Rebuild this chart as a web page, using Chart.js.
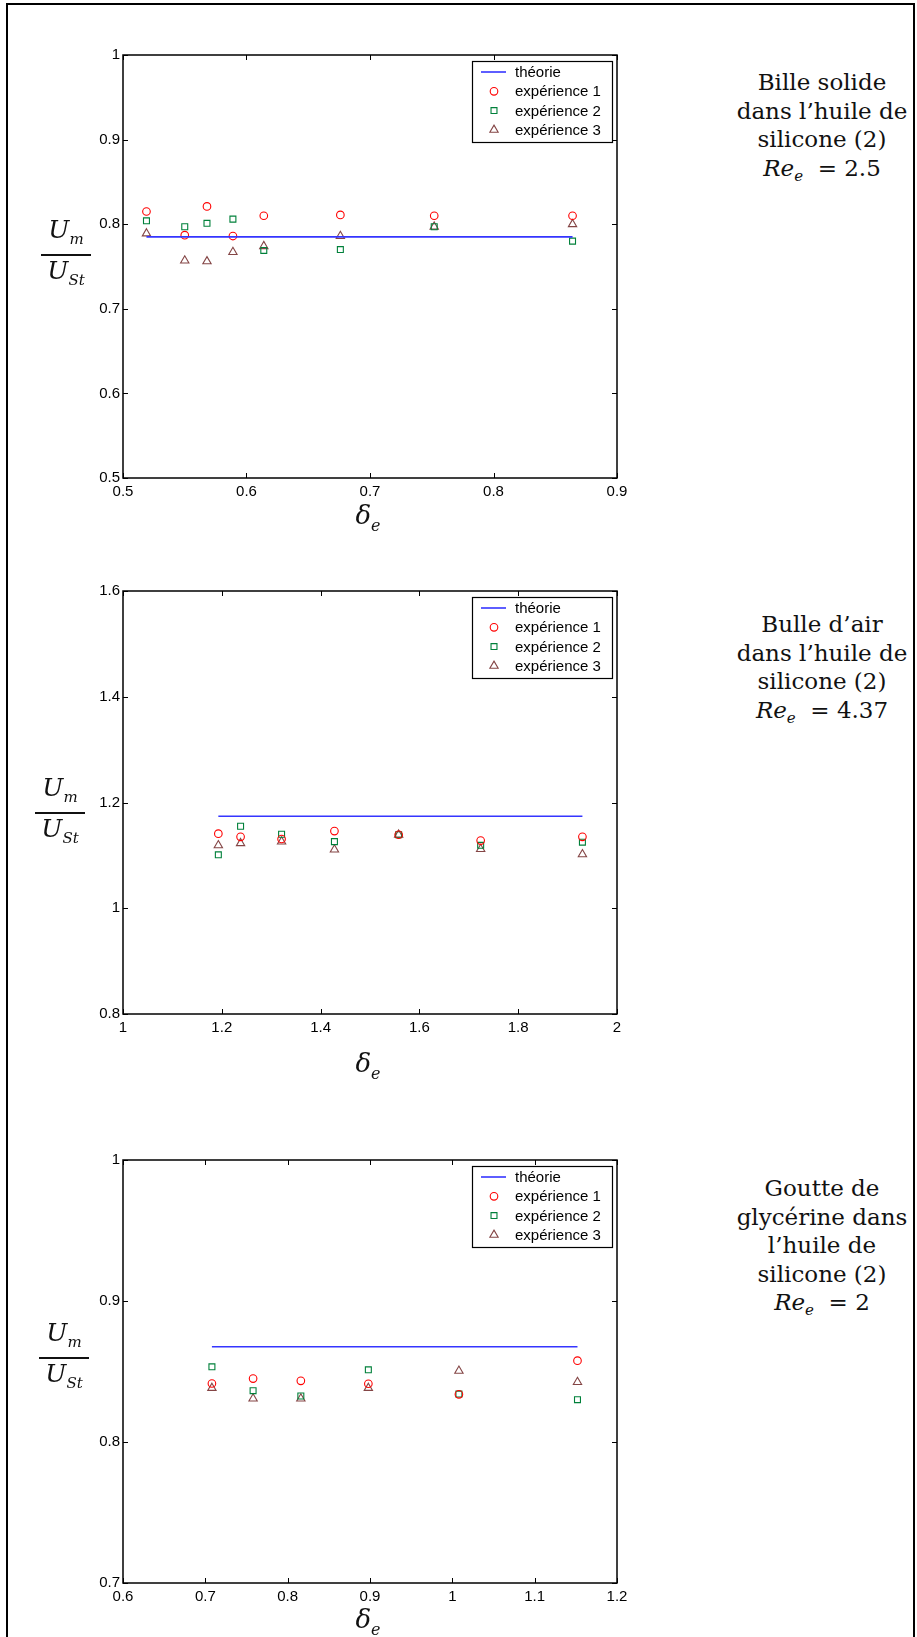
<!DOCTYPE html>
<html>
<head>
<meta charset="utf-8">
<script src="https://cdn.jsdelivr.net/npm/chart.js@4.4.0/dist/chart.umd.min.js"></script>
<style>
  body { margin:0; background:#fff; width:917px; height:1637px; position:relative; overflow:hidden; font-family:"DejaVu Serif", serif; }
  #frame { position:absolute; left:6px; top:3px; width:905px; height:1700px; border:2px solid #000; }
  canvas { position:absolute; left:0; }
  .side { position:absolute; width:210px; text-align:center; font-size:23px; line-height:28.5px; color:#111; }
  .side sub { font-size:15px; vertical-align:-5px; }
  .frac { position:absolute; width:50px; height:0; font-style:italic; color:#111; }
  .frac .num, .frac .den { position:absolute; left:0; width:100%; text-align:center; font-size:25px; line-height:26px; }
  .frac .num { bottom:3px; }
  .frac .den { top:3px; }
  .frac sub { font-size:15px; vertical-align:-6px; }
  .frac .bar { position:absolute; left:0; top:-1px; width:100%; height:2px; background:#111; }
  .xl { position:absolute; width:60px; text-align:center; font-size:26px; font-style:italic; color:#111; line-height:30px; }
  .xl sub { font-size:16px; vertical-align:-7px; }
</style>
</head>
<body>
<div id="frame"></div>

<canvas id="c1" width="640" height="483" style="top:35px"></canvas>
<canvas id="c2" width="640" height="483" style="top:571px"></canvas>
<canvas id="c3" width="640" height="483" style="top:1140px"></canvas>

<div class="frac" style="left:41px;top:255px"><div class="num"><i>U</i><sub>m</sub></div><div class="bar"></div><div class="den"><i>U</i><sub>St</sub></div></div>
<div class="frac" style="left:35px;top:813px"><div class="num"><i>U</i><sub>m</sub></div><div class="bar"></div><div class="den"><i>U</i><sub>St</sub></div></div>
<div class="frac" style="left:39px;top:1358px"><div class="num"><i>U</i><sub>m</sub></div><div class="bar"></div><div class="den"><i>U</i><sub>St</sub></div></div>

<div class="xl" style="left:338px;top:500px">δ<sub>e</sub></div>
<div class="xl" style="left:338px;top:1048px">δ<sub>e</sub></div>
<div class="xl" style="left:338px;top:1604px">δ<sub>e</sub></div>

<div class="side" style="left:717px;top:68px">Bille solide<br>dans l’huile de<br>silicone (2)<br><i>Re<sub>e</sub></i>&nbsp; = 2.5</div>
<div class="side" style="left:717px;top:610px">Bulle d’air<br>dans l’huile de<br>silicone (2)<br><i>Re<sub>e</sub></i>&nbsp; = 4.37</div>
<div class="side" style="left:717px;top:1174px">Goutte de<br>glycérine dans<br>l’huile de<br>silicone (2)<br><i>Re<sub>e</sub></i>&nbsp; = 2</div>

<script>
// legend labels
var noms = ['théorie', 'expérience 1', 'expérience 2', 'expérience 3']

// bille solide, Re_e = 2.5
var delta1 = [0.519, 0.550, 0.568, 0.589, 0.614, 0.676, 0.752, 0.864]
var exp1_1 = [0.815, 0.787, 0.821, 0.786, 0.810, 0.811, 0.810, 0.810]
var exp1_2 = [0.804, 0.797, 0.801, 0.806, 0.769, 0.770, 0.797, 0.780]
var exp1_3 = [0.789, 0.757, 0.756, 0.767, 0.774, 0.786, 0.797, 0.800]
var theo1 = 0.785

// bulle d'air, Re_e = 4.37
var delta2 = [1.193, 1.238, 1.321, 1.428, 1.558, 1.724, 1.930]
var exp2_1 = [1.141, 1.135, 1.131, 1.146, 1.139, 1.128, 1.135]
var exp2_2 = [1.101, 1.155, 1.140, 1.126, 1.139, 1.119, 1.125]
var exp2_3 = [1.119, 1.123, 1.126, 1.111, 1.139, 1.112, 1.102]
var theo2 = 1.174

// goutte de glycerine, Re_e = 2
var delta3 = [0.708, 0.758, 0.816, 0.898, 1.008, 1.152]
var exp3_1 = [0.8415, 0.845, 0.8434, 0.8413, 0.8338, 0.8577]
var exp3_2 = [0.8533, 0.8364, 0.8326, 0.8512, 0.834, 0.830]
var exp3_3 = [0.8383, 0.8308, 0.8308, 0.8383, 0.8505, 0.8425]
var theo3 = 0.8676

// axis limits [xmin, xmax, xstep, ymin, ymax, ystep]
var axes1 = [0.5, 0.9, 0.1, 0.5, 1.0, 0.1]
var axes2 = [1.0, 2.0, 0.2, 0.8, 1.6, 0.2]
var axes3 = [0.6, 1.2, 0.1, 0.7, 1.0, 0.1]

var tickFont = { family: '"Liberation Sans", Arial, sans-serif', size: 15 }

function pts(xs, ys) {
  return xs.map(function(x, i) { return { x: x, y: ys[i] } })
}
function fmt(v) { return String(+(+v).toFixed(2)) }

// matlab style box with inward ticks
var boxPlugin = {
  id: 'matlabBox',
  afterDraw: function(chart) {
    var ctx = chart.ctx, a = chart.chartArea
    var sx = chart.scales.x, sy = chart.scales.y
    ctx.save()
    ctx.strokeStyle = '#000'
    ctx.lineWidth = 1.5
    ctx.strokeRect(a.left, a.top, a.right - a.left, a.bottom - a.top)
    ctx.lineWidth = 1
    ctx.beginPath()
    sx.ticks.forEach(function(t) {
      var p = Math.round(sx.getPixelForValue(t.value)) + 0.5
      ctx.moveTo(p, a.bottom); ctx.lineTo(p, a.bottom - 5)
      ctx.moveTo(p, a.top); ctx.lineTo(p, a.top + 5)
    })
    sy.ticks.forEach(function(t) {
      var p = Math.round(sy.getPixelForValue(t.value)) + 0.5
      ctx.moveTo(a.left, p); ctx.lineTo(a.left + 5, p)
      ctx.moveTo(a.right, p); ctx.lineTo(a.right - 5, p)
    })
    ctx.stroke()

    // legend inside the axes, top right
    var w = 140, h = 81
    var lx = a.right - 5 - w, ly = a.top + 6
    ctx.fillStyle = '#fff'
    ctx.fillRect(lx, ly, w, h)
    ctx.lineWidth = 1.2
    ctx.strokeRect(lx + 0.5, ly + 0.5, w, h)
    ctx.font = '15px "Liberation Sans", Arial, sans-serif'
    ctx.textBaseline = 'middle'
    chart.data.datasets.forEach(function(ds, i) {
      var yy = ly + 11 + i * 19.3
      if (i == 0) {
        ctx.strokeStyle = ds.borderColor
        ctx.lineWidth = ds.borderWidth
        ctx.beginPath(); ctx.moveTo(lx + 9, yy); ctx.lineTo(lx + 34, yy); ctx.stroke()
      } else {
        ctx.strokeStyle = ds.pointBorderColor
        ctx.fillStyle = 'rgba(0,0,0,0)'
        ctx.lineWidth = ds.pointBorderWidth
        Chart.helpers.drawPoint(ctx, { pointStyle: ds.pointStyle, radius: ds.pointRadius, borderWidth: ds.pointBorderWidth, rotation: 0 }, lx + 22, yy)
      }
      ctx.fillStyle = '#000'
      ctx.fillText(ds.label, lx + 43, yy + 1)
    })
    ctx.restore()
  }
}

function makeChart(id, xs, e1, e2, e3, theo, ax) {
  new Chart(document.getElementById(id), {
    type: 'scatter',
    data: {
      datasets: [
        { label: noms[0], data: [{ x: xs[0], y: theo }, { x: xs[xs.length - 1], y: theo }],
          showLine: true, borderColor: '#3535ff', borderWidth: 1.6, pointRadius: 0 },
        { label: noms[1], data: pts(xs, e1), pointStyle: 'circle', pointRadius: 3.8,
          pointBorderColor: '#ff0000', pointBackgroundColor: 'rgba(0,0,0,0)', pointBorderWidth: 1.1 },
        { label: noms[2], data: pts(xs, e2), pointStyle: 'rect', pointRadius: 4.2,
          pointBorderColor: '#00803a', pointBackgroundColor: 'rgba(0,0,0,0)', pointBorderWidth: 1.1 },
        { label: noms[3], data: pts(xs, e3), pointStyle: 'triangle', pointRadius: 4.8,
          pointBorderColor: '#844545', pointBackgroundColor: 'rgba(0,0,0,0)', pointBorderWidth: 1.1 }
      ]
    },
    options: {
      responsive: false,
      animation: false,
      devicePixelRatio: 1,
      layout: { padding: { left: 0, right: 23, top: 20, bottom: 0 } },
      plugins: { legend: { display: false }, tooltip: { enabled: false } },
      scales: {
        x: {
          type: 'linear', min: ax[0], max: ax[1],
          grid: { display: false, drawTicks: false },
          border: { display: false },
          ticks: { stepSize: ax[2], color: '#000', font: tickFont, padding: 5, maxRotation: 0, callback: fmt },
          afterFit: function(s) { s.height = 40 }
        },
        y: {
          type: 'linear', min: ax[3], max: ax[4],
          grid: { display: false, drawTicks: false },
          border: { display: false },
          ticks: { stepSize: ax[5], color: '#000', font: tickFont, padding: 3, callback: fmt },
          afterFit: function(s) { s.width = 123 }
        }
      }
    },
    plugins: [boxPlugin]
  })
}

makeChart('c1', delta1, exp1_1, exp1_2, exp1_3, theo1, axes1)
makeChart('c2', delta2, exp2_1, exp2_2, exp2_3, theo2, axes2)
makeChart('c3', delta3, exp3_1, exp3_2, exp3_3, theo3, axes3)
</script>
</body>
</html>
